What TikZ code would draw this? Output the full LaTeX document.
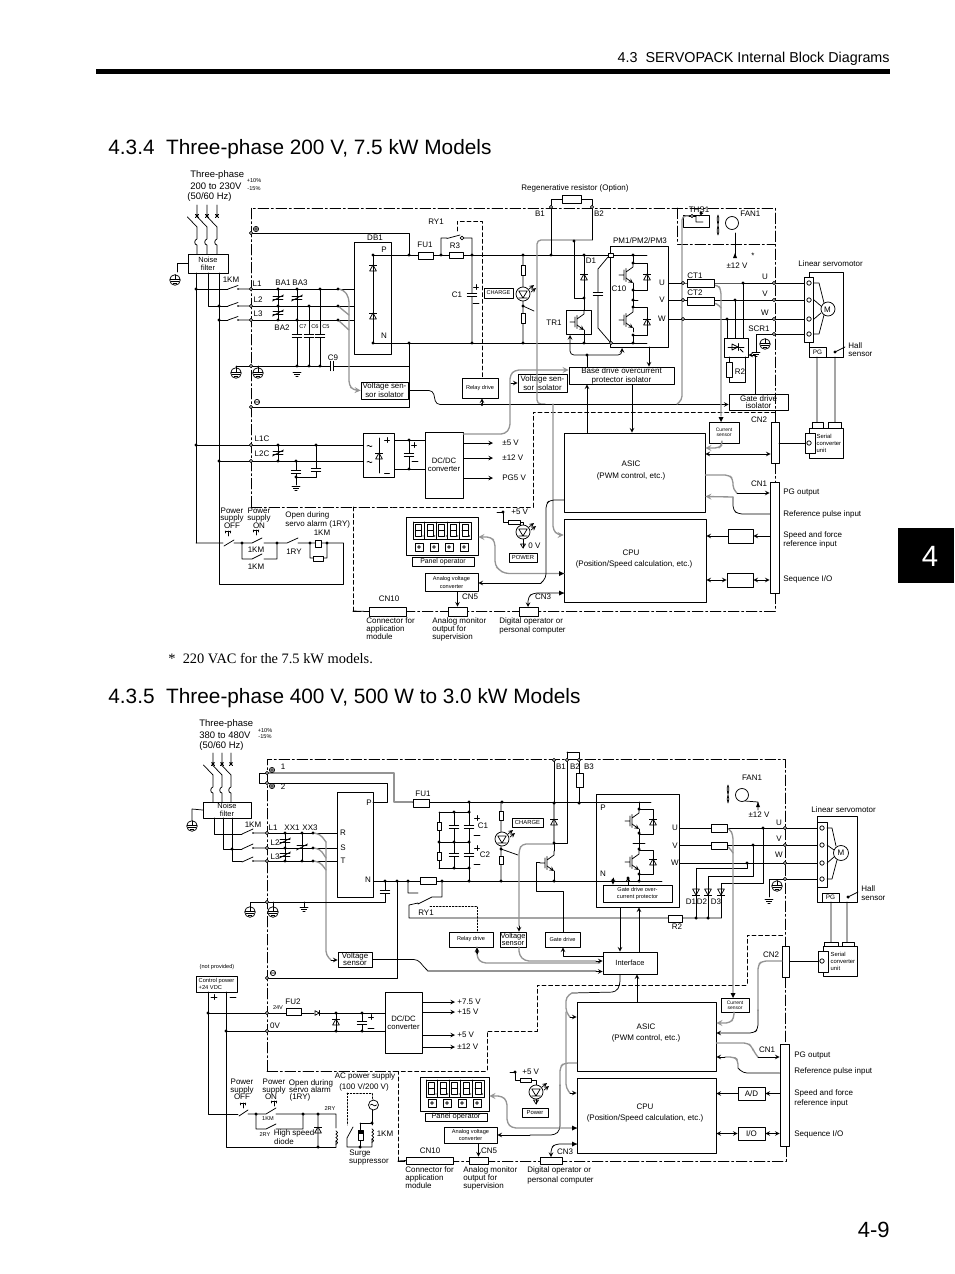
\documentclass[tikz,border=0pt]{standalone}
\usepackage{fontspec}
\setmainfont{Liberation Sans}
\newfontfamily\serifnote{Liberation Serif}
\tikzset{
  lab/.style={font=\fontsize{6}{7}\selectfont,inner sep=0pt},
  labb/.style={font=\fontsize{7.1}{8}\selectfont,inner sep=0pt},
  tinyf/.style={font=\fontsize{4.2}{4.8}\selectfont,inner sep=0pt},
  blk/.style={draw,inner sep=0pt,align=center,font=\fontsize{6}{7}\selectfont},
  ddot/.style={dash pattern=on 8pt off 2pt on 1.5pt off 2pt},
  dsh/.style={dash pattern=on 3pt off 2pt},
  dot2/.style={dash pattern=on 1.2pt off 1.2pt},
  gw/.style={draw=black!42,line width=1pt},
  rc/.style={rounded corners=3pt},
  pics/dup/.style={code={\draw (-3.4,3)--(3.4,3)--(0,-3)--cycle;\draw (-3.6,-3)--(3.6,-3);}},
  pics/ddown/.style={code={\draw (-3.4,-3)--(3.4,-3)--(0,3)--cycle;\draw (-3.6,3)--(3.6,3);}},
  pics/vari/.style={code={\draw (-5,-1.4)--(5,-1.4) (-5,1.4)--(5,1.4) (-5.5,3)--(5.5,-3);}},
  pics/capv/.style={code={\fill[white] (-4.5,-1.5) rectangle (4.5,1.5);\draw (-4.7,-1.5)--(4.7,-1.5) (-4.7,1.5)--(4.7,1.5);}},
  pics/gnd/.style={code={\draw (-4,0)--(4,0) (-2.6,2)--(2.6,2) (-1.1,4)--(1.1,4);}},
  pics/earth/.style={code={\draw[fill=white] (0,0) circle (5.3);\draw (0,-5.3)--(0,-1) (-4.6,-1)--(4.6,-1) (-3.6,1.4)--(3.6,1.4) (-1.6,3.4)--(1.6,3.4);}},
  pics/rbox/.style 2 args={code={\draw[fill=white] (-#1/2,-#2/2) rectangle (#1/2,#2/2);}},
  pics/igbt/.style={code={\draw (-14,0)--(-9,0) (-9,-5)--(-9,5) (-7,-6.5)--(-7,6.5) (-7,-3)--(0,-8)--(0,-12);\draw[->,>=stealth] (-7,3)--(0,8);\draw (0,8)--(0,12);}},
  pics/led/.style={code={\draw[fill=white] (0,0) circle (7);\draw (-4.2,-3)--(4.2,-3)--(0,4)--cycle (-4.2,4)--(4.2,4);\draw[->] (6,-5)--(11,-9);\draw[->] (8,-2)--(13,-6);}},
  pics/brk/.style={code={\draw (0,0)--(0,11) (-1.5,9.5)--(1.5,12.5) (-1.5,12.5)--(1.5,9.5) (-9.5,12)--(0,22)--(0,34) .. controls (-3,34.5) and (-3,40) .. (0,40)--(0,49);}},
  pics/coil/.style={code={\foreach \ii in {0,1,2,3}{\draw (0,-\ii*3.4) arc[start angle=-90,end angle=90,radius=1.7];}}},
  pics/pbtn/.style={code={\draw (0,0)--(0,-5) (-2.8,-5)--(2.8,-5) (-2.8,-5)--(-2.8,-3) (2.8,-5)--(2.8,-3);}},
  pics/disp/.style={code={\draw (0,0) rectangle (58,17);\foreach \ii in {0,...,4}{\draw ({\ii*11.6},0)--({\ii*11.6},17);\draw ({\ii*11.6+2.6},2.5) rectangle ({\ii*11.6+8.6},14);\draw ({\ii*11.6+2.6},8)--({\ii*11.6+8.6},8);\fill ({\ii*11.6+10},14) circle (.5pt);}}},
  pics/btn/.style={code={\draw (-4,-4) rectangle (4,4);\draw (0,0) circle (1.3);}}
}
\newcommand{\pbox}[7][]{\pgfmathsetmacro\bcx{(#3+#5)/2}\pgfmathsetmacro\bcy{(#4+#6)/2}\pgfmathsetmacro\bw{(#5-#3)*.75}\pgfmathsetmacro\bh{(#6-#4)*.75}\node[blk,minimum width=\bw pt,minimum height=\bh pt,#1] (#2) at (\bcx,\bcy) {#7};}
\begin{document}
\begin{tikzpicture}[x=.75pt,y=-.75pt,line width=.55pt,line join=round,line cap=round,>=stealth]
\useasboundingbox (0,0) rectangle (954,1274);
\fill (96,69) rectangle (890,74);
\fill (898,528) rectangle (954,583);
\node[text=white,font=\fontsize{22}{22}\selectfont] (tabnum) at (930,556) {4};
\node[font=\fontsize{10.75}{12}\selectfont,anchor=east,inner sep=0pt] (runhead) at (890,59) {4.3\ \ SERVOPACK Internal Block Diagrams};
\node[font=\fontsize{16.5}{18}\selectfont,anchor=east,inner sep=0pt] (pagenum) at (890,1230) {4-9};
\node[font=\fontsize{15.6}{18}\selectfont,anchor=west,inner sep=0pt] (headA) at (108,149) {4.3.4\ \ Three-phase 200 V, 7.5 kW Models};
\node[font=\fontsize{15.6}{18}\selectfont,anchor=west,inner sep=0pt] (headB) at (108,698) {4.3.5\ \ Three-phase 400 V, 500 W to 3.0 kW Models};
\node[font=\fontsize{10.8}{12}\selectfont\serifnote,anchor=west,inner sep=0pt] (noteA) at (168,659) {*\ \ 220 VAC for the 7.5 kW models.};
\draw[ddot] (251,507)--(251,208)--(775,208)--(775,422);
\draw[ddot] (677,208)--(677,244)--(775,244);
\draw[ddot] (775,463)--(775,482);
\draw[ddot] (775,593)--(775,611)--(353,611);
\draw[ddot] (251,507)--(393,507);
\draw[dsh] (393,507)--(533,507)--(533,412)--(775,412);
\draw[dsh] (353,507)--(353,611);
\draw[dsh] (457,231)--(457,221)--(482,221)--(482,378);
\draw[ddot] (267,1071)--(267,759)--(785,759)--(785,946);
\draw[ddot] (785,977)--(785,1044);
\draw[ddot] (786,1146)--(786,1161)--(398,1161);
\draw[ddot] (267,1071)--(398,1071);
\draw[dsh] (398,1161)--(398,1071)--(487,1071)--(487,1031)--(537,1031)--(537,985)--(747,985)--(747,935)--(785,935);
\pbox[font=\fontsize{5.6}{6.2}\selectfont]{nfA}{188}{254}{228}{273}{Noise\\filter}
\pbox{dbA}{354}{242}{391}{354}{}
\pbox[font=\fontsize{5.9}{5.2}\selectfont]{vsA}{361}{382}{408}{399}{Voltage sen-\\sor isolator}
\pbox[font=\fontsize{4.2}{5}\selectfont]{rdA}{462}{378}{498}{398}{Relay drive}
\pbox[font=\fontsize{4.2}{5}\selectfont]{chA}{484}{288}{513}{298}{CHARGE}
\pbox{pmA}{610}{246}{668}{347}{}
\pbox{trA}{566}{310}{591}{334}{}
\pbox[font=\fontsize{5.9}{5.2}\selectfont]{vsC}{518}{374}{567}{392}{Voltage sen-\\sor isolator}
\pbox[font=\fontsize{6}{6.8}\selectfont]{bdA}{569}{367}{674}{384}{Base drive overcurrent\\protector isolator}
\pbox{thA}{683}{215}{709}{227}{}
\pbox{scA}{724}{338}{748}{357}{}
\pbox[font=\fontsize{6}{5.6}\selectfont]{gdA}{729}{394}{788}{410}{Gate drive\\isolator}
\pbox[font=\fontsize{3.7}{3.6}\selectfont]{csA}{709}{422}{739}{443}{Current\\sensor}
\pbox[fill=white]{cn2A}{771}{422}{779}{463}{}
\pbox[fill=white]{cn1A}{770}{482}{779}{593}{}
\pbox{asA}{564}{433}{705}{512}{}
\pbox{cpA}{564}{519}{706}{602}{}
\pbox{adA}{728}{529}{753}{543}{}
\pbox{ioA}{727}{573}{753}{587}{}
\pbox{raA}{363}{433}{394}{477}{}
\pbox[font=\fontsize{5.8}{6.2}\selectfont]{dcA}{425}{432}{463}{498}{DC/DC\\converter}
\pbox{paA}{406}{517}{478}{555}{}
\pbox[font=\fontsize{5.2}{6}\selectfont]{plA}{412}{557}{474}{566}{Panel operator}
\pbox[font=\fontsize{4.2}{6}\selectfont]{avA}{425}{573}{478}{591}{Analog voltage\\converter}
\pbox[fill=white]{cnaA}{369}{607}{406}{616}{}
\pbox[fill=white]{cnbA}{448}{607}{467}{616}{}
\pbox[fill=white]{cncA}{519}{607}{538}{616}{}
\pbox[font=\fontsize{4.4}{5}\selectfont]{pwA}{509}{553}{537}{562}{POWER}
\pbox{moA}{809}{272}{843}{357}{}
\pbox[fill=white]{stA}{804}{277}{813}{342}{}
\pbox[font=\fontsize{4.8}{5}\selectfont,fill=white]{pgA}{809}{347}{826}{357}{PG}
\pbox[font=\fontsize{4.4}{5.2}\selectfont,align=left,text width=24pt]{seA}{809}{428}{843}{458}{\hspace{5pt}Serial\\\hspace{5pt}converter\\\hspace{5pt}unit}
\pbox{suaA}{812}{422}{823}{428}{}
\pbox{subA}{828}{422}{841}{428}{}
\pbox[fill=white]{slA}{805}{433}{815}{453}{}
\pbox[font=\fontsize{5.6}{6.2}\selectfont]{nfB}{203}{802}{251}{818}{Noise\\filter}
\pbox{rsB}{337}{792}{373}{897}{}
\pbox[font=\fontsize{5.9}{5.2}\selectfont]{vsB}{338}{952}{372}{967}{Voltage\\sensor}
\pbox[font=\fontsize{4.2}{5}\selectfont]{rdB}{449}{932}{493}{947}{Relay drive}
\pbox[font=\fontsize{5.6}{5.2}\selectfont]{vtB}{500}{932}{526}{947}{Voltage\\sensor}
\pbox[font=\fontsize{4.2}{5}\selectfont]{gtB}{545}{932}{580}{947}{Gate drive}
\pbox[font=\fontsize{5.6}{6}\selectfont]{ifB}{603}{952}{657}{974}{Interface}
\pbox[font=\fontsize{4.4}{5}\selectfont]{chB}{512}{818}{543}{827}{CHARGE}
\pbox{pmB}{596}{794}{679}{907}{}
\pbox[font=\fontsize{4.2}{5}\selectfont]{gdB}{603}{885}{672}{902}{Gate drive over-\\current protector}
\pbox[font=\fontsize{3.7}{3.8}\selectfont]{csB}{721}{998}{749}{1012}{Current\\sensor}
\pbox[fill=white]{cn2B}{782}{946}{789}{977}{}
\pbox[fill=white]{cn1B}{780}{1044}{789}{1146}{}
\pbox{asB}{577}{1002}{716}{1071}{}
\pbox{cpB}{577}{1078}{716}{1153}{}
\pbox{adB}{738}{1087}{765}{1100}{A/D}
\pbox{ioB}{738}{1127}{765}{1140}{I/O}
\pbox[font=\fontsize{4.3}{5.2}\selectfont,align=left]{cpwB}{196}{976}{237}{992}{Control power\\+24 VDC}
\pbox[font=\fontsize{5.8}{6.2}\selectfont]{dcB}{385}{992}{422}{1053}{DC/DC\\converter}
\pbox{paB}{420}{1077}{489}{1111}{}
\pbox[font=\fontsize{5.6}{6}\selectfont]{plB}{425}{1113}{487}{1121}{Panel operator}
\pbox[font=\fontsize{4.2}{5.6}\selectfont]{avB}{444}{1127}{497}{1143}{Analog voltage\\converter}
\pbox[fill=white]{cnaB}{406}{1157}{453}{1164}{}
\pbox[fill=white]{cnbB}{469}{1157}{488}{1164}{}
\pbox[fill=white]{cncB}{540}{1157}{562}{1164}{}
\pbox[font=\fontsize{4.4}{5}\selectfont]{pwB}{522}{1108}{548}{1117}{Power}
\pbox{moB}{817}{816}{857}{902}{}
\pbox[fill=white]{stB}{817}{822}{827}{887}{}
\pbox[font=\fontsize{4.8}{5}\selectfont,fill=white]{pgB}{822}{893}{839}{902}{PG}
\pbox[font=\fontsize{4.4}{5.2}\selectfont,align=left,text width=24pt]{seB}{823}{946}{857}{976}{\hspace{5pt}Serial\\\hspace{5pt}converter\\\hspace{5pt}unit}
\pbox{suaB}{824}{942}{838}{946}{}
\pbox{subB}{842}{942}{854}{946}{}
\pbox[fill=white]{slB}{818}{951}{828}{972}{}
\coordinate (rrB) at (721,918);
\foreach \nm/\yy in {tPa/233,tLa/289,tLb/306,tLc/320,tEa/366,tNa/407,tCa/445,tCb/461}{\coordinate (\nm) at (251,\yy);}
\foreach \nm/\yy in {tUa/283,tVa/300,tWa/319,tGa/334}{\coordinate (\nm) at (774,\yy);}
\foreach \nm/\yy in {tOb/773,tTb/783,tLd/833,tLe/848,tLf/861,tEb/902,tNb/978,tCc/1013,tCd/1031}{\coordinate (\nm) at (267,\yy);}
\foreach \nm/\yy in {tUb/828,tVb/845,tWb/863,tGb/879}{\coordinate (\nm) at (785,\yy);}
\foreach \xx in {197,207,217}{\pic at (\xx,205) {brk};}
\foreach \xx in {213,222,231}{\pic at (\xx,753) {brk};}
\draw (nfA.west)--(177,263.5)--(177,272);
\draw (196,273)--(196,543);
\draw (208,273)--(208,306)--(228,306);
\draw (219,273)--(219,584)--(343,584)--(343,543);
\draw (196,289)--(228,289) (219,320)--(228,320);
\foreach \yy/\nm in {289/tLa,306/tLb,320/tLc}{\draw (228,\yy)--(238,\yy-3.5) (238,\yy)--(\nm);\fill (238,\yy) circle (.7pt);\draw (\nm)--(dbA.west |- \nm);}
\draw (tPa)--(409,233)--(409,255);
\draw (373,255)--(647,255) (373,343)--(647,343) (373,255)--(373,343);
\draw (tEa)--(409,366)--(409,343);
\draw (tNa)--(409,407)--(409,366);
\draw (278,289)--(278,320) (297,289)--(297,366) (309,306)--(309,366) (320,289)--(320,366);
\draw (441,255)--(441,238)--(447,238) (447,238.5)--(460,235) (464,238)--(472,238)--(472,343);
\draw[gw,rc,->] (338,289)--(344,290)--(349,298)--(349,385)--(353,390)--(vsA.west);
\draw[gw] (338,306)--(349,315) (338,320)--(349,330);
\draw (523,255)--(523,343) (523,306)--(534,311);
\draw[gw,rc] (592,240)--(537,240)--(537,404)--(545,404);
\draw (592,207)--(592,240) (551,207)--(551,255) (551,207)--(551,199)--(562,199) (581,199)--(592,199)--(592,207);
\draw[rc] (vsA.east)--(433,390.5)--(436,404.5)--(520,404.5);
\draw[->] (520,404.5)--(gdA.west |- 0,404.5);
\draw[->] (482,404.5)--(rdA.south -| 482,0);
\draw (574,241)--(574,298)--(584,298) (584,255)--(584,310) (584,334)--(584,343);
\draw (608,257)--(598,269)--(598,328)--(610,342);
\draw (633,255)--(633,263)--(647,263)--(647,290)--(633,290) (633,287)--(633,307)--(647,307)--(647,335)--(633,335)--(633,343) (632,300)--(638,300);
\draw[<->,rc] (570,335)--(570,355)--(622,355)--(622,348);
\draw (587,355)--(bdA.north -| 587,0);
\draw[->] (649,347)--(bdA.north -| 649,0);
\draw[->] (asA.north -| 587,0)--(bdA.south -| 587,0);
\draw[->] (bdA.south -| 632,0)--(asA.north -| 632,0);
\draw[gw,rc,->] (dcA.east |- 0,434)--(505,434)--(510,428)--(510,375)--(515,370)--(bdA.west |- 0,370);
\draw[->] (511,383)--(vsC.west |- 0,383);
\draw[gw,rc,->] (553,404)--(553,530)--(558,535)--(cpA.west |- 0,535);
\draw[gw,rc] (689,216)--(682,216)--(682,400)--(677,404);
\draw (735,233)--(735,256);
\fill (735,253) -- (733,258) -- (737,258) -- cycle;
\draw (tUa)--(683,283)--(804,283) (683,300)--(804,300) (683,319)--(804,319) (pmA.east |- 0,283)--(683,283) (pmA.east |- 0,300)--(683,300) (pmA.east |- 0,319)--(683,319) (tGa)--(804,334);
\draw (743,283)--(743,338) (735,300)--(735,338) (727,319)--(727,338);
\draw (729,357)--(729,382)--(745,382)--(745,357);
\draw (728,347)--(744,347) (738,343.5)--(738,350.5);
\draw (732,344)--(732,350)--(738,347)--cycle;
\draw (740,349)--(743,352);
\draw (tGa)--(756,334)--(756,352);
\draw[->] (755,394)--(755,355)--(scA.east |- 0,355);
\draw[gw,rc] (714,285)--(718,285)--(721,290)--(721,416);
\draw[gw,rc] (714,303)--(717,303)--(721,308);
\fill (721,422)--(718.5,417)--(723.5,417)--cycle;
\draw[gw,rc,->] (722,443)--(722,445)--(719,448)--(asA.east |- 0,448);
\draw[<->] (asA.east |- 0,454)--(cn2A.west |- 0,454);
\draw[gw,rc] (asA.east |- 0,475)--(729,475)--(733,479)--(733,489)--(737,493);
\draw[->] (737,493)--(cn1A.west |- 0,493);
\draw[rc] (cn1A.west |- 0,514)--(738,514)--(733,510)--(733,497);
\draw[gw,->] (733,497)--(asA.east |- 0,496.5);
\draw[->] (cn1A.west |- 0,536)--(adA.east |- 0,536);
\draw[->] (adA.west |- 0,536)--(cpA.east |- 0,536);
\draw[<->] (cn1A.west |- 0,580)--(ioA.east |- 0,580);
\draw[<->] (ioA.west |- 0,580)--(cpA.east |- 0,580);
\draw (779,443)--(slA.west);
\draw (817,357)--(817,422) (835,357)--(835,422) (814,283)--(819,283)--(824,303) (814,300)--(821,306) (814,319)--(821,313) (814,334)--(819,334)--(824,315);
\draw (835,352)--(845,347);
\draw (tCa)--(raA.west |- tCa) (tCb)--(raA.west |- tCb);
\draw (196,445)--(tCa) (219,461)--(tCb);
\draw (278,445)--(278,461) (296,461)--(296,477)--(316,477)--(316,445) (296,477)--(296,485);
\draw (raA.east |- 0,440)--(dcA.west |- 0,440) (raA.east |- 0,469)--(dcA.west |- 0,469) (409,440)--(409,469);
\draw (379,438)--(379,473);
\foreach \yy in {443,458,478}{\draw[->] (dcA.east |- 0,\yy)--(493,\yy);}
\draw (196,543)--(223,543) (224,546)--(234,540) (234,543)--(242,543) (242,543)--(242,559)--(252,559) (252,559)--(262,554) (264,559)--(277,559)--(277,543) (242,543)--(252,543) (252,543)--(262,538) (264,543)--(287,543) (287,543)--(298,538) (298,543)--(343,543) (310,543)--(310,558)--(313,558) (323,558)--(327,558)--(327,543);
\pic at (228,536) {pbtn};
\pic at (256,535) {pbtn};
\draw[fill=white] (315,540) rectangle (321,547);
\draw[fill=white] (313,556) rectangle (323,561);
\draw (497,512)--(503,512)--(503,522)--(508,522) (520,522)--(523,522)--(523,548);
\draw (520.5,544)--(525.5,544)--(523,548)--cycle;
\draw[gw,rc,->] (564,573.5)--(505,573.5)--(499,570)--(495,565)--(495,542)--(491,537)--(paA.east |- 0,537);
\fill (564,573.5)--(559,571)--(559,576)--cycle;
\draw[rc] (asA.west |- 0,500)--(550,500)--(546,504)--(546,578)--(541,583);
\draw[->] (541,583)--(avA.east |- 0,583);
\draw[->] (cnbA.north |- avA.south)--(cnbA.north);
\draw (353,611)--(cnaA.west);
\draw[rc,->] (cpA.west |- 0,593)--(533,593)--(528,597)--(528,607);
\fill (564,593)--(559,590.5)--(559,595.5)--cycle;
\draw (nfB.west)--(192,809)--(192,820);
\draw (214,818)--(214,834)--(242,834) (223,818)--(223,849)--(242,849) (232,818)--(232,861)--(242,861);
\foreach \yy/\nm in {833/tLd,848/tLe,861/tLf}{\draw (242,\yy+1)--(253,\yy-4) (253,\yy)--(\nm);\fill (253,\yy) circle (.7pt);\draw (\nm)--(rsB.west |- \nm);}
\draw (285,833)--(285,861) (302,833)--(302,861);
\foreach \yy/\ya in {833/842,848/858,861/870}{\draw[gw,rc] (313,\yy)--(320,\yy+1)--(326,\ya);}
\draw[gw,rc] (326,842)--(326,955)--(331,960);
\draw[->] (331,960)--(vsB.west |- 0,960);
\draw (373,802)--(387,802)--(387,783)--(tTb) (tOb)--(259,773)--(259,783)--(tTb);
\draw[gw] (tOb)--(394,773)--(394,802)--(413,802);
\draw (413,802)--(651,802);
\draw (439,812)--(469,812) (439,868)--(469,868) (439,812)--(439,868) (454,812)--(454,868) (469,802)--(469,881) (439,842)--(469,842);
\draw (501,802)--(501,881) (501,849)--(518,855);
\draw (rsB.east |- 0,881)--(662,881);
\draw (385,881)--(385,902)--(tEb);
\draw (397,881)--(397,978)--(tNb);
\draw (304,902)--(304,907);
\draw (408,881)--(408,893)--(418,893) (409,905)--(409,918)--(rrB) (409,905)--(418,903) (418,904)--(432,897)--(442,897)--(442,881);
\draw[dot2] (430,906)--(477,906)--(rdB.north -| 477,0);
\draw[gw,rc] (477,947)--(477,958)--(482,963)--(600,963);
\draw[rc,->] (477,954)--(rdB.south -| 477,0);
\draw[rc] (vsB.east)--(418,959.5)--(423,966)--(428,971);
\draw[gw] (428,971)--(596,971);
\draw[->] (596,971.5)--(ifB.west |- 0,971.5);
\draw[gw,rc] (519,947)--(519,955)--(525,961)--(596,961);
\draw[->] (596,961)--(ifB.west |- 0,961);
\draw[gw,rc] (554,844)--(522,844)--(519,850)--(519,926);
\draw[->] (519,926)--(vtB.north -| 519,0);
\draw (554,760)--(554,851) (554,875)--(554,881) (567,752)--(579,752)--(579,802) (567,752)--(567,843)--(554,843);
\draw[gw] (554,803)--(554,843);
\draw (gtB.north -| 563,0)--(563,891)--(536,891)--(536,862)--(540,862);
\draw[->] (ifB.west |- 0,956)--(563,956)--(gtB.south -| 563,0);
\draw (639,802)--(639,809)--(653,809)--(653,834)--(639,834) (639,833)--(639,850)--(653,850)--(653,874)--(639,874)--(639,881) (633,843)--(645,843);
\draw[->] (613,878)--(gdB.north -| 613,0);
\draw[->] (gdB.north -| 628,0)--(628,877);
\draw[->] (pmB.south -| 620,0)--(ifB.north -| 620,0);
\draw[->] (ifB.north -| 639,0)--(pmB.south -| 639,0);
\draw (pmB.east |- tUb)--(tUb) (pmB.east |- tVb)--(tVb) (pmB.east |- tWb)--(tWb);
\draw (tUb)--(stB.west |- tUb) (tVb)--(stB.west |- tVb) (tWb)--(stB.west |- tWb) (tGb)--(stB.west |- tGb);
\draw (763,828)--(763,883)--(721,883)--(rrB) (753,845)--(753,876)--(708,876)--(708,918) (747,863)--(747,868)--(696,868)--(696,918);
\draw (tGb)--(769,879)--(769,897);
\draw[gw,rc] (727,828)--(730,829)--(733,835)--(733,993);
\draw[gw,rc] (727,846)--(729,847)--(733,853);
\fill (733,998)--(730.5,993)--(735.5,993)--cycle;
\draw (745,801)--(758,802)--(758,810);
\fill (758,802)--(756,807)--(760,807)--cycle;
\draw (831,902)--(831,942) (847,902)--(847,942) (827,828)--(832,828)--(836,846) (827,845)--(834,850) (827,863)--(834,857) (827,879)--(832,879)--(837,860);
\draw (848,897)--(858,892);
\draw (cn2B.east |- slB)--(slB.west);
\draw[gw,rc] (782,961)--(762,961)--(758,965)--(758,1010);
\draw[rc,->] (758,1010)--(758,1029)--(754,1033)--(asB.east |- 0,1033);
\draw[gw,rc,->] (734,1012)--(734,1018)--(730,1023)--(asB.east |- 0,1023);
\draw[gw,rc] (asB.east |- 0,1043)--(748,1043)--(752,1047)--(754,1052)--(758,1057);
\draw[->] (758,1057)--(cn1B.west |- 0,1057);
\draw[rc] (cn1B.west |- 0,1073)--(743,1073)--(738,1068);
\draw[gw,rc] (738,1068)--(738,1060)--(734,1057)--(725,1057);
\draw[->] (725,1057)--(asB.east |- 0,1057);
\draw[->] (cn1B.west |- adB)--(adB.east);
\draw[->] (adB.west)--(cpB.east |- adB);
\draw[<->] (cn1B.west |- ioB)--(ioB.east);
\draw[<->] (ioB.west)--(cpB.east |- ioB);
\draw[rc] (ifB.south -| 620,0)--(620,985)--(616,992)--(572,993);
\draw[gw,rc] (572,993)--(566,997)--(566,1012)--(570,1017);
\draw[->] (570,1017)--(asB.west |- 0,1017);
\draw[gw,rc] (566,1012)--(566,1088)--(570,1093);
\draw[->] (570,1093)--(cpB.west |- 0,1093);
\draw[->] (asB.north -| 637,0)--(ifB.south -| 637,0);
\draw[gw,rc] (asB.west |- 0,1063)--(564,1063)--(560,1067)--(560,1085);
\draw[rc] (560,1085)--(560,1130)--(555,1135)--(530,1135);
\draw[->] (530,1135)--(avB.east |- 0,1135);
\draw[gw,rc,->] (cpB.west |- 0,1128)--(512,1128)--(507,1123)--(507,1101)--(502,1096)--(paB.east |- 0,1096);
\fill (577,1128)--(572,1125.5)--(572,1130.5)--cycle;
\draw[->] (cnbB.north |- avB.south)--(cnbB.north);
\draw (398,1161)--(cnaB.west);
\draw[rc,<-] (551,1157)--(551,1148)--(555,1144)--(cpB.west |- 0,1144);
\fill (577,1144)--(572,1141.5)--(572,1146.5)--cycle;
\draw (510,1072)--(515,1072)--(515,1080)--(520,1080) (531,1080)--(536,1080)--(536,1104);
\draw (533.5,1100)--(538.5,1100)--(536,1104)--cycle;
\draw (208,992)--(208,1114)--(238,1114) (226,992)--(226,1147)--(336,1147);
\draw (208,1013)--(tCc)--(314,1013) (320,1013)--(dcB.west |- 0,1013);
\draw (226,1031)--(tCd)--(dcB.west |- 0,1031);
\draw (336,1013)--(336,1031) (362,1013)--(362,1031);
\foreach \yy in {1002,1012,1035,1047}{\draw[->] (dcB.east |- 0,\yy)--(455,\yy);}
\draw (239,1116)--(248,1110) (248,1114)--(266,1114) (266,1114)--(276,1108) (276,1114)--(336,1114)--(336,1128) (336,1141)--(336,1147) (256,1114)--(256,1129)--(266,1129) (266,1129)--(276,1124) (276,1129)--(303,1129)--(303,1114) (318,1114)--(318,1147);
\pic at (243,1108) {pbtn};
\pic at (274,1106) {pbtn};
\draw[dot2] (347,1093)--(372,1093)--(372,1100);
\draw[dot2] (347,1093)--(347,1125);
\draw (347,1138)--(353,1127) (347,1138)--(347,1147)--(372,1147)--(372,1139);
\draw (372,1110)--(372,1125) (360,1123)--(372,1123) (360,1123)--(360,1147);
\draw[fill=white] (358,1130) rectangle (363,1140);
\fill (358,1130) rectangle (363,1134);
\draw (373.5,1105) circle (5);
\draw (370.5,1105) .. controls (372,1102) and (374,1108) .. (376.5,1105);
\foreach \xx/\yy in {297/335.5,309/335.5,320/335.5,472/295,409/455,598/294,296/472,316/470,454/827,469/827,454/855,469/855,385/892,362/1023}{\pic at (\xx,\yy) {capv};}
\pic[rotate=90] at (332,366) {capv};
\foreach \xx/\yy in {278/298,278/313,297/298,278/453,285/841,285/855,302/847}{\pic at (\xx,\yy) {vari};}
\foreach \xx/\yy in {373/268,373/316,584/277,647/277,647/322,554/822,653/822,653/862,379/456,336/1022}{\pic at (\xx,\yy) {dup};}
\pic at (318,1130) {dup};
\foreach \xx/\yy in {696/892,708/892,721/892}{\pic at (\xx,\yy) {ddown};}
\pic[rotate=-90,scale=.7] at (317,1013) {dup};
\foreach \xx/\yy in {584/322,633/275,633/320,554/863,639/821,639/862}{\pic at (\xx,\yy) {igbt};}
\foreach \xx/\yy in {297/372,296/486,304/907,756/352,769/899}{\pic at (\xx,\yy) {gnd};}
\foreach \xx/\yy in {175/280,236/373,258/373,765/344,192/826,250/912,273/912,777/886}{\pic at (\xx,\yy) {earth};}
\draw (tEa)--(236,366) (236,366)--(236,368) (258,366)--(258,368);
\draw (tEb)--(250,902)--(250,907) (273,902)--(273,907);
\foreach \xx/\yy/\ww/\hh in {425.5/255.5/15/7,456/255/14/6,571.5/199/19/8,700.5/283/27/8,700.5/301/27/8,514/522/12/4,525.5/1080/11/4,293.5/1012/15/7,421/803/16/8,428/881/16/7,719/828/16/8,719/845.5/16/7,675/918.5/14/7}{\pic at (\xx,\yy) {rbox={\ww}{\hh}};}
\foreach \xx/\yy/\ww/\hh in {523/270/4/10,523/318/4/10,729/369.5/6/15,439/826/4/8,439/856/4/8,501/816/4/9,501/860/4/8,579.5/780/7/14}{\pic at (\xx,\yy) {rbox={\ww}{\hh}};}
\pic at (336,1141) {coil};
\pic at (372,1139) {coil};
\foreach \xx/\yy in {523/294,523/532,502/839,536/1092}{\pic at (\xx,\yy) {led};}
\draw (718,215) .. controls (715,222) and (721,228) .. (718,235) .. controls (715,228) and (721,222) .. (718,215);
\draw[fill=white] (732,223) circle (6.5);
\draw (728,785) .. controls (725,792) and (731,798) .. (728,803) .. controls (725,798) and (731,792) .. (728,785);
\draw[fill=white] (742,795) circle (6.5);
\draw (689,216)--(696,216);
\draw (696,216)--(696,222)--(703,222) (699,216)--(703,213);
\fill (701,213) circle (1.3pt);
\pic at (413,522) {disp};
\foreach \xx in {419,434,449,464}{\pic at (\xx,547) {btn};}
\pic at (426,1080) {disp};
\foreach \xx in {432,447,462,477}{\pic at (\xx,1103) {btn};}
\draw (828,309) circle (7);
\draw (841,853) circle (7.5);
\foreach \xx/\yy in {809/283,809/300,809/319,809/334,809/443,822/828,822/845,822/863,822/879,822/961}{\draw[fill=white] (\xx,\yy) circle (2.2);}
\foreach \xx/\yy in {278/289,297/289,320/289,338/289,278/306,309/306,338/306,278/320,297/320,338/320,297/366,309/366,320/366,373/255,373/343,409/255,441/255,472/255,472/343,409/343,523/255,523/343,523/306,551/255,574/241,584/255,584/298,584/343,633/255,633/263,633/290,633/300,633/307,633/335,633/343,743/283,735/300,727/319,278/445,278/461,296/461,316/445,409/440,409/469,296/477,196/289,219/306,219/320,196/445,219/461,242/543,277/543,310/543,327/543,503/512,482/404.5,835/352,587/355}{\fill (\xx,\yy) circle (1.3pt);}
\foreach \xx/\yy in {285/833,302/833,313/833,285/848,313/848,285/861,302/861,313/861,232/849,469/802,502/802,439/842,454/842,469/842,454/812,469/812,454/868,469/868,385/881,397/881,408/881,442/881,469/881,501/881,501/849,554/803,579/803,554/843,554/881,639/809,639/833,639/849,639/874,639/881,763/828,753/845,747/863,696/918,708/918,613/880,628/878,848/897,208/1013,226/1031,336/1013,336/1031,362/1013,362/1031,256/1114,303/1114,318/1114,318/1147,372/1123,360/1147,477/952,515/1072}{\fill (\xx,\yy) circle (1.3pt);}
\foreach \nm in {tPa,tLa,tLb,tLc,tEa,tNa,tCa,tCb,tUa,tVa,tWa,tGa,tOb,tTb,tLd,tLe,tLf,tEb,tNb,tCc,tCd,tUb,tVb,tWb,tGb}{\draw[fill=white] (\nm) circle (1.7);}
\foreach \xx/\yy in {551/207,592/207,683/283,683/300,683/319,611/343,554/760,567/760,579/760,692/216}{\draw[fill=white] (\xx,\yy) circle (1.7);}
\draw[fill=white] (462,238) circle (1.9);
\draw[fill=white] (608.8,253) rectangle (613,257.2);
\foreach \xx/\yy in {256/229,272/770,272/786}{\draw (\xx,\yy) circle (2.6) (\xx-2.6,\yy)--(\xx+2.6,\yy) (\xx,\yy-2.6)--(\xx,\yy+2.6);}
\foreach \xx/\yy in {257/402,273/973}{\draw (\xx,\yy) circle (2.6) (\xx-2.6,\yy)--(\xx+2.6,\yy);}
\foreach \xx/\yy in {476/287,414/445,477/818,477/848,371/1017}{\draw (\xx-2.5,\yy)--(\xx+2.5,\yy) (\xx,\yy-2.5)--(\xx,\yy+2.5);}
\foreach \xx/\yy in {476/303,415/461,477/835,477/864,371/1028,214/997}{\draw (\xx-3,\yy)--(\xx+3,\yy);}
\draw (214,994.5)--(214,999.5);
\draw (230,997)--(236,997);
\draw (387,437.5)--(387,442.5) (384.5,440)--(389.5,440) (384.5,473)--(389.5,473);
\draw (367,446) .. controls (369,444) and (370,448) .. (372,446) (367,462) .. controls (369,460) and (370,464) .. (372,462);
\foreach \nm/\xx/\yy/\lbl in {ca/190/175/Three-phase,cb/190/186/200 to 230V,cc/187/197/{(50/60 Hz)},cd/199/724/Three-phase,ce/199/735/380 to 480V,cf/199/746/{(50/60 Hz)}}{\node[labb,anchor=west] (\nm) at (\xx,\yy) {\lbl};}
\foreach \nm/\xx/\yy/\lbl in {cg/285/515/Open during,ch/285/524/servo alarm (1RY),ci/366/621/Connector for,cj/366/629/application,ck/366/637/module,cl/432/621/Analog monitor,cm/432/629/output for,cn/432/637/supervision,co/499/621/Digital operator or,cp/499/630/personal computer,cq/783/493/PG output,cr/783/514/Reference pulse input,cs/783/535/Speed and force,ct/783/544/reference input,cu/783/579/{Sequence I/O},cv/405/1170/Connector for,cw/405/1178/application,cx/405/1186/module,cy/463/1170/Analog monitor,cz/463/1178/output for,da/463/1186/supervision,db/527/1170/Digital operator or,dc/527/1180/personal computer,dd/794/1056/PG output,de/794/1071/Reference pulse input,df/794/1093/Speed and force,dg/794/1103/reference input,dh/794/1134/{Sequence I/O},di/798/264/Linear servomotor,dj/811/810/Linear servomotor,dk/848/346/Hall,dl/848/354/sensor,dm/861/889/Hall,dn/861/898/sensor,dp/740/214/FAN1,dq/502/443/±5 V,dr/502/458/±12 V,ds/502/478/PG5 V,dt/457/1002/+7.5 V,du/457/1012/+15 V,dv/457/1035/+5 V,dw/457/1047/±12 V,dx/511/512/+5 V,dy/522/1072/+5 V,dz/528/546/0 V}{\node[lab,anchor=west] (\nm) at (\xx,\yy) {\lbl};}
\foreach \nm/\xx/\yy/\lbl in {ea/257/284/L1,eb/258/300/L2,ec/258/314/L3,ed/283/283/BA1,ee/300/283/BA3,ef/282/328/BA2,eg/333/358/C9,eh/375/238/DB1,ei/384/250/P,ej/384/336/N,ek/425/245/FU1,el/455/246/R3,em/436/222/RY1,en/457/295/C1,ep/540/214/B1,eq/599/214/B2,er/591/261/D1,es/554/323/TR1,et/619/289/C10,eu/640/241/{PM1/PM2/PM3},ev/662/283/U,ew/662/300/V,ex/662/319/W,ey/699/210/THS1,ez/737/266/±12 V,fa/753/256/*,fb/695/276/CT1,fc/695/293/CT2,fd/765/277/U,fe/765/294/V,ff/765/313/W,fg/759/329/SCR1,fh/740/372/R2,fi/759/420/CN2,fj/759/484/CN1,fk/262/439/L1C,fl/262/454/L2C,fm/232/511/Power,fn/232/518/supply,fp/232/526/OFF,fq/259/511/Power,fr/259/518/supply,fs/259/526/ON,ft/256/550/1KM,fu/256/567/1KM,fv/294/552/1RY,fw/322/533/1KM,fx/389/599/CN10,fy/470/597/CN5,fz/543/597/CN3,ga/575/188/Regenerative resistor (Option),gb/631/464/ASIC,gc/631/476/{(PWM control, etc.)},gd/631/553/CPU,ge/634/564/{(Position/Speed calculation, etc.)},gf/231/280/1KM,gg/827.5/309.5/M,gh/841/853/M,gi/283/767/1,gj/283/787/2,gk/423/794/FU1,gl/253/825/1KM,gm/273/828/L1,gn/275/843/L2,gp/275/857/L3,gq/292/828/XX1,gr/310/828/XX3,gs/369/803/P,gt/343/833/R,gu/343/848/S,gv/343/861/T,gx/368/880/N,gy/483/826/C1,gz/485/855/C2,ha/426/913/RY1,hb/561/767/B1,hc/575/767/B2,hd/589/767/B3,he/603/808/P,hf/603/874/N,hg/675/828/U,hh/675/846/V,hi/675/863/W,hj/691/902/D1,hk/702/902/D2,hl/716/902/D3,hm/677/927/R2,hn/752/778/FAN1,hp/759/815/±12 V,hq/779/823/U,hr/779/839/V,hs/779/855/W,ht/771/955/CN2,hu/767/1050/CN1,hv/646/1027/ASIC,hw/646/1038/{(PWM control, etc.)},hx/645/1107/CPU,hy/645/1118/{(Position/Speed calculation, etc.)},hz/293/1002/FU2,ia/275/1026/0V,ib/242/1082/Power,ic/242/1090/supply,id/242/1097/OFF,ie/274/1082/Power,ig/274/1090/supply,ih/271/1097/ON,ii/311/1083/Open during,ij/310/1090/servo alarm,ik/300/1097/(1RY),il/365/1076/AC power supply,im/364/1087/{(100 V/200 V)},in/294/1133/High speed,ip/284/1142/diode,iq/360/1154/Surge,ir/369/1162/suppressor,is/385/1134/1KM,it/430/1151/CN10,iu/489/1151/CN5,iv/565/1152/CN3}{\node[lab] (\nm) at (\xx,\yy) {\lbl};}
\foreach \nm/\xx/\yy/\lbl in {ja/254/181/+10\%,jb/254/189/-15\%,jc/265/731/+10\%,jd/265/737/-15\%,je/217/967/(not provided),jf/303/327/C7,jg/315/327/C6,jh/326/327/C5,ji/278/1008/24V,jj/268/1119/1KM,jk/265/1135/2RY,jl/330/1109/2RY}{\node[tinyf] (\nm) at (\xx,\yy) {\lbl};}
\end{tikzpicture}
\end{document}
